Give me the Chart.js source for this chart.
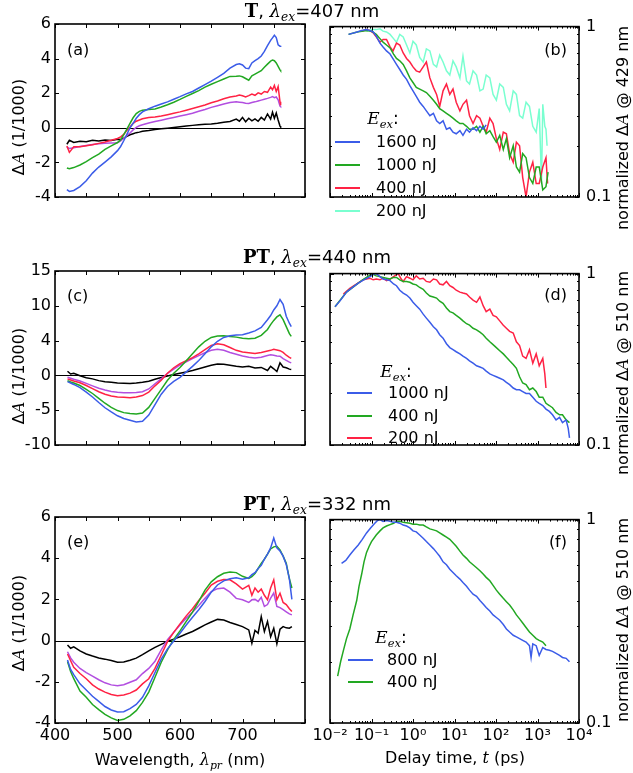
<!DOCTYPE html>
<html>
<head>
<meta charset="utf-8">
<script src="https://cdn.jsdelivr.net/npm/chart.js@4.4.1/dist/chart.umd.min.js"></script>
<style>
  html, body { margin:0; padding:0; background:#fff; }
  body { width:633px; height:773px; position:relative; overflow:hidden; font-family:"DejaVu Sans", sans-serif; color:#000; }
  canvas { position:absolute; }
  .txt { position:absolute; white-space:nowrap; font-size:16px; line-height:1; }
  .mid { transform:translate(-50%,-50%); }
  .rot { transform:translate(-50%,-50%) rotate(-90deg); }
  .mi { font-family:"DejaVu Serif", serif; font-style:italic; }
  .bm { font-family:"DejaVu Serif", serif; font-weight:bold; }
  sub { font-family:"DejaVu Serif", serif; font-style:italic; font-size:68%; vertical-align:-0.35em; line-height:0; }
  .leg { position:absolute; height:2px; width:25px; }
</style>
</head>
<body>
<canvas id="pa" width="315" height="233" style="left:0;top:10px"></canvas>
<canvas id="pb" width="324" height="233" style="left:300px;top:10px"></canvas>
<canvas id="pc" width="315" height="234" style="left:0;top:257px"></canvas>
<canvas id="pd" width="324" height="234" style="left:300px;top:257px"></canvas>
<canvas id="pe" width="315" height="252" style="left:0;top:503px"></canvas>
<canvas id="pf" width="324" height="252" style="left:300px;top:503px"></canvas>

<div class="txt mid" style="left:312px;top:11px;font-size:18px"><span class="bm">T</span>, <span class="mi">λ</span><sub>ex</sub>=407 nm</div>
<div class="txt mid" style="left:317px;top:257px;font-size:18px"><span class="bm">PT</span>, <span class="mi">λ</span><sub>ex</sub>=440 nm</div>
<div class="txt mid" style="left:317px;top:504px;font-size:18px"><span class="bm">PT</span>, <span class="mi">λ</span><sub>ex</sub>=332 nm</div>

<div class="txt rot" style="left:19px;top:127px">Δ<span class="mi">A</span> (1/1000)</div>
<div class="txt rot" style="left:19px;top:376px">Δ<span class="mi">A</span> (1/1000)</div>
<div class="txt rot" style="left:19px;top:623px">Δ<span class="mi">A</span> (1/1000)</div>
<div class="txt rot" style="left:623px;top:128px">normalized Δ<span class="mi">A</span> @ 429 nm</div>
<div class="txt rot" style="left:623px;top:373px">normalized Δ<span class="mi">A</span> @ 510 nm</div>
<div class="txt rot" style="left:623px;top:620px">normalized Δ<span class="mi">A</span> @ 510 nm</div>

<div class="txt mid" style="left:180px;top:760px">Wavelength, <span class="mi">λ</span><sub>pr</sub> (nm)</div>
<div class="txt mid" style="left:455px;top:758px">Delay time, <span class="mi">t</span> (ps)</div>

<div class="txt" style="left:67px;top:42px">(a)</div>
<div class="txt" style="right:66px;top:42px">(b)</div>
<div class="txt" style="left:67px;top:288px">(c)</div>
<div class="txt" style="right:66px;top:287px">(d)</div>
<div class="txt" style="left:67px;top:534px">(e)</div>
<div class="txt" style="right:66px;top:534px">(f)</div>

<script>
// colours
const cBlueC = '#3b5ce8', cGreenC = '#22a822', cRedC = '#ff2244', cPurpleC = '#b24ee0', cBlackC = '#000000', cCyanC = '#7affd0';

// (a) T, 407 nm : wavelength (nm) and ΔA (1/1000)
const wlA = [419,423,430,440,450,460,470,480,490,500,505,510,515,520,525,530,535,540,550,560,570,580,590,600,610,620,630,640,650,660,670,680,690,695,700,705,710,715,720,725,730,735,740,745,748,751,754,757,760,761];
const aBlue = [-3.58,-3.68,-3.62,-3.4,-3.06,-2.62,-2.27,-1.98,-1.68,-1.32,-1.08,-0.75,-0.38,0.0,0.26,0.55,0.76,0.92,1.1,1.25,1.38,1.5,1.65,1.8,1.96,2.1,2.3,2.5,2.7,2.92,3.15,3.45,3.66,3.7,3.63,3.45,3.42,3.75,3.88,4.0,4.15,4.42,4.75,5.05,5.2,5.35,5.22,4.8,4.72,4.75];
const aGreen = [-2.32,-2.37,-2.3,-2.15,-1.95,-1.73,-1.52,-1.25,-1.05,-0.85,-0.7,-0.4,-0.08,0.25,0.58,0.82,0.95,1.02,1.06,1.09,1.2,1.33,1.48,1.64,1.82,1.98,2.15,2.35,2.52,2.67,2.82,2.97,2.98,3.0,2.95,2.85,2.75,3.0,3.1,3.2,3.3,3.5,3.68,3.85,3.92,3.88,3.75,3.55,3.35,3.3];
const aRed = [-1.05,-1.42,-1.1,-1.1,-1.04,-0.98,-0.9,-0.82,-0.72,-0.62,-0.52,-0.38,-0.15,0.05,0.26,0.38,0.45,0.52,0.6,0.63,0.68,0.76,0.84,0.92,1.02,1.12,1.22,1.32,1.45,1.55,1.68,1.78,1.84,1.9,1.85,1.78,1.86,1.95,1.88,2.02,1.95,2.1,2.05,2.35,2.2,2.45,2.1,2.38,1.5,1.3];
const aPurple = [-1.1,-1.2,-1.15,-1.08,-1.02,-0.96,-0.92,-0.9,-0.88,-0.86,-0.75,-0.62,-0.45,-0.3,-0.12,0.02,0.12,0.18,0.28,0.36,0.44,0.52,0.6,0.68,0.76,0.84,0.96,1.06,1.18,1.28,1.38,1.46,1.5,1.48,1.46,1.42,1.4,1.46,1.5,1.55,1.6,1.65,1.7,1.76,1.8,1.74,1.78,1.62,1.25,1.22];
const aBlack = [-0.95,-0.72,-0.85,-0.78,-0.8,-0.72,-0.76,-0.7,-0.74,-0.66,-0.68,-0.6,-0.5,-0.4,-0.34,-0.28,-0.25,-0.2,-0.16,-0.1,-0.06,-0.02,0.02,0.06,0.1,0.14,0.18,0.2,0.22,0.26,0.32,0.36,0.5,0.38,0.6,0.35,0.55,0.4,0.52,0.38,0.6,0.45,0.8,0.5,0.9,0.55,0.85,0.45,0.1,0.05];

// (c) PT, 440 nm
const wlC = [420,425,430,440,450,460,470,480,490,500,510,520,530,540,550,560,570,580,590,600,610,620,630,640,650,660,670,680,690,700,710,720,730,740,745,750,755,760,765,770,775,778];
const cBlue = [-0.9,-1.1,-1.3,-1.75,-2.4,-3.1,-3.9,-4.65,-5.25,-5.8,-6.2,-6.45,-6.7,-6.6,-5.7,-4.2,-2.7,-1.6,-0.85,-0.28,0.5,1.3,2.15,3.1,4.1,4.9,5.45,5.7,5.8,5.85,6.1,6.4,6.9,8.0,8.6,9.4,10.0,10.9,10.2,8.5,7.5,7.0];
const cGreen = [-0.77,-0.95,-1.1,-1.45,-2.0,-2.6,-3.3,-4.0,-4.6,-5.05,-5.35,-5.48,-5.55,-5.4,-4.6,-3.3,-2.0,-0.7,0.32,1.13,2.1,3.1,4.1,4.9,5.45,5.65,5.7,5.6,5.5,5.35,5.25,5.35,5.75,6.6,7.3,7.9,8.4,8.7,8.0,7.0,6.0,5.6];
const cRed = [-0.5,-0.65,-0.8,-1.05,-1.45,-1.9,-2.35,-2.7,-2.95,-3.1,-3.15,-3.2,-3.1,-2.9,-2.4,-1.5,-0.7,0.3,1.1,1.7,2.1,2.55,3.1,3.7,4.3,4.55,4.4,4.0,3.6,3.35,3.25,3.15,3.3,3.5,3.6,3.75,3.65,3.55,3.3,2.9,2.6,2.45];
const cPurple = [-0.28,-0.4,-0.55,-0.8,-1.15,-1.5,-1.85,-2.1,-2.3,-2.43,-2.48,-2.5,-2.45,-2.35,-1.95,-1.2,-0.5,0.3,0.9,1.5,1.95,2.4,2.85,3.25,3.6,3.75,3.6,3.3,3.05,2.8,2.6,2.5,2.6,2.85,2.95,2.9,2.8,2.75,2.4,2.15,1.9,1.8];
const cBlack = [0.6,0.2,0.3,-0.05,-0.35,-0.5,-0.75,-0.9,-1.0,-1.08,-1.12,-1.17,-1.1,-1.0,-0.85,-0.55,-0.3,-0.1,0.12,0.3,0.5,0.7,0.95,1.2,1.45,1.65,1.6,1.45,1.3,1.2,1.3,1.05,1.15,0.7,1.3,0.95,0.55,1.8,1.2,1.1,0.9,0.85];

// (e) PT, 332 nm
const wlE = [420,425,430,440,450,460,470,480,490,500,510,520,530,540,550,560,570,580,590,600,610,620,630,640,650,660,670,680,690,700,710,715,720,725,730,735,740,745,750,755,760,765,770,775,779];
const eBlue = [-0.94,-1.4,-1.65,-2.1,-2.4,-2.7,-2.95,-3.2,-3.37,-3.47,-3.45,-3.3,-3.1,-2.75,-2.2,-1.55,-0.9,-0.4,-0.02,0.36,0.76,1.13,1.5,1.9,2.35,2.7,2.9,3.0,3.05,2.98,3.05,3.2,3.3,3.5,3.65,3.95,4.2,4.5,4.98,4.5,4.35,4.1,3.7,3.0,2.0];
const eGreen = [-1.02,-1.5,-1.85,-2.45,-2.75,-3.1,-3.35,-3.58,-3.75,-3.88,-3.82,-3.65,-3.4,-3.0,-2.5,-1.78,-1.05,-0.45,0.06,0.47,0.93,1.38,1.9,2.45,2.85,3.1,3.27,3.33,3.3,3.12,3.02,3.1,3.25,3.5,3.75,3.95,4.2,4.45,4.55,4.58,4.4,4.1,3.75,3.0,2.55];
const eRed = [-0.65,-0.98,-1.3,-1.6,-1.85,-2.15,-2.35,-2.5,-2.62,-2.68,-2.64,-2.55,-2.4,-2.1,-1.85,-1.35,-0.7,-0.05,0.4,0.81,1.2,1.55,1.95,2.3,2.7,2.88,2.97,2.95,2.75,2.5,2.68,2.2,2.55,2.35,2.5,2.2,1.98,2.55,2.95,1.98,2.3,1.85,1.75,1.55,1.41];
const ePurple = [-0.54,-0.84,-1.05,-1.35,-1.55,-1.72,-1.9,-2.05,-2.15,-2.19,-2.14,-2.02,-1.9,-1.6,-1.35,-1.0,-0.45,0.05,0.4,0.76,1.09,1.38,1.7,2.05,2.38,2.52,2.55,2.35,2.05,1.98,1.85,1.98,2.0,1.9,2.1,1.66,1.75,2.06,2.31,1.66,1.6,1.5,1.4,1.3,1.25];
const eBlack = [-0.21,-0.37,-0.3,-0.5,-0.65,-0.75,-0.84,-0.9,-0.97,-1.05,-1.04,-0.95,-0.85,-0.68,-0.5,-0.33,-0.18,-0.04,0.07,0.19,0.32,0.44,0.6,0.76,0.9,1.03,1.0,0.88,0.78,0.68,0.52,-0.13,0.5,0.36,1.17,0.44,0.93,0.19,0.6,-0.16,0.55,0.68,0.62,0.6,0.68];

// (b) normalized ΔA @ 429 nm vs delay time (ps)
const tB1600 = [0.028,0.045,0.058,0.075,0.09,0.11,0.13,0.16,0.19,0.23,0.28,0.34,0.40,0.48,0.58,0.70,0.84,1.0,1.2,1.45,1.76,2.1,2.55,3.1,3.7,4.4,5.3,6.4,7.7,9.2,11,13.5,16,19.5,23,28,34,41,49,58];
const vB1600 = [0.90,0.93,0.95,0.96,0.95,0.93,0.88,0.80,0.76,0.72,0.69,0.64,0.60,0.56,0.52,0.49,0.45,0.42,0.39,0.36,0.34,0.32,0.30,0.31,0.28,0.27,0.28,0.25,0.255,0.24,0.235,0.245,0.23,0.25,0.24,0.255,0.245,0.26,0.25,0.265];
const tB1000 = [0.028,0.045,0.076,0.1,0.13,0.16,0.19,0.23,0.28,0.34,0.40,0.48,0.58,0.70,0.84,1.0,1.2,1.45,1.76,2.1,2.55,3.1,3.7,4.4,5.3,6.4,7.7,9.2,11,13.5,16,19.5,23,28,34,41,49,58,71,85,102,123,150,178,213,260,310,370,440,530,640,770,930,1100,1340,1600,1800];
const vB1000 = [0.90,0.93,0.95,0.94,0.90,0.85,0.81,0.78,0.75,0.69,0.65,0.63,0.60,0.55,0.50,0.47,0.44,0.43,0.42,0.41,0.39,0.37,0.35,0.33,0.32,0.31,0.30,0.29,0.28,0.27,0.27,0.26,0.25,0.25,0.26,0.24,0.26,0.235,0.245,0.226,0.21,0.23,0.19,0.22,0.17,0.20,0.15,0.14,0.18,0.17,0.13,0.12,0.15,0.15,0.11,0.115,0.14];
const tB400 = [0.058,0.075,0.09,0.11,0.13,0.16,0.19,0.23,0.28,0.33,0.40,0.48,0.58,0.70,0.84,1.0,1.2,1.45,1.76,2.1,2.55,3.1,3.7,4.4,5.3,6.4,7.7,9.2,11,13.5,16,19.5,23,28,34,41,49,58,71,85,102,123,150,178,213,260,310,370,440,530,640,770,930,1100,1340,1600,1750];
const vB400 = [0.94,0.96,0.95,0.92,0.87,0.81,0.84,0.84,0.76,0.72,0.80,0.78,0.70,0.65,0.62,0.58,0.55,0.54,0.58,0.62,0.50,0.44,0.40,0.34,0.42,0.46,0.40,0.43,0.36,0.32,0.35,0.37,0.30,0.27,0.30,0.29,0.26,0.24,0.29,0.27,0.22,0.19,0.24,0.235,0.18,0.16,0.21,0.20,0.13,0.10,0.14,0.16,0.12,0.12,0.15,0.17,0.12];
const tB200 = [0.076,0.1,0.13,0.16,0.19,0.23,0.28,0.34,0.40,0.48,0.58,0.70,0.84,1.0,1.2,1.45,1.76,2.1,2.55,3.1,3.7,4.4,5.3,6.4,7.7,9.2,11,13.5,16,19.5,23,28,34,41,49,58,71,85,102,123,150,178,213,260,310,370,440,530,640,770,930,1100,1250,1340,1500,1600,1700];
const vB200 = [0.94,0.96,0.96,0.97,0.94,0.93,0.90,0.85,0.81,0.90,0.87,0.78,0.70,0.82,0.78,0.66,0.62,0.74,0.72,0.60,0.58,0.68,0.62,0.55,0.52,0.63,0.58,0.50,0.67,0.48,0.46,0.55,0.52,0.42,0.43,0.52,0.50,0.40,0.37,0.46,0.44,0.35,0.32,0.42,0.40,0.30,0.29,0.36,0.34,0.26,0.24,0.33,0.12,0.35,0.26,0.25,0.20];

// (d) normalized ΔA @ 510 nm, λex 440 nm
const tD1000 = [0.0132,0.018,0.025,0.035,0.048,0.065,0.092,0.11,0.13,0.16,0.19,0.23,0.28,0.34,0.40,0.48,0.58,0.70,0.84,1.0,1.2,1.45,1.76,2.1,2.55,3.1,3.7,4.4,5.3,6.4,7.7,9.2,11,13.5,16,19.5,23,28,34,41,49,58,71,85,102,123,150,178,213,260,310,370,440,530,640,770,930,1100,1340,1600,1930,2300,2800,3400,4000,4900,5500,5900];
const vD1000 = [0.64,0.70,0.78,0.83,0.88,0.92,0.96,0.99,1.0,0.96,0.93,0.92,0.91,0.87,0.85,0.80,0.77,0.75,0.72,0.68,0.65,0.62,0.58,0.55,0.52,0.49,0.47,0.44,0.42,0.39,0.37,0.36,0.35,0.34,0.33,0.32,0.31,0.30,0.29,0.285,0.28,0.27,0.26,0.255,0.25,0.245,0.24,0.232,0.225,0.215,0.21,0.21,0.205,0.20,0.20,0.19,0.18,0.175,0.17,0.162,0.157,0.15,0.14,0.145,0.135,0.14,0.125,0.11];
const tD400 = [0.0132,0.025,0.048,0.065,0.092,0.11,0.13,0.16,0.19,0.23,0.28,0.34,0.40,0.48,0.58,0.70,0.84,1.0,1.2,1.45,1.76,2.1,2.55,3.1,3.7,4.4,5.3,6.4,7.7,9.2,11,13.5,16,19.5,23,28,34,41,49,58,71,85,102,123,150,178,213,260,310,370,440,530,640,770,930,1100,1340,1600,1930,2300,2800,3400,4000,4900,5900];
const vD400 = [0.64,0.78,0.88,0.93,0.98,0.99,0.97,0.96,0.95,0.94,0.93,0.95,0.95,0.92,0.90,0.90,0.89,0.87,0.86,0.83,0.81,0.77,0.74,0.73,0.72,0.69,0.67,0.63,0.60,0.59,0.57,0.55,0.53,0.51,0.50,0.48,0.47,0.455,0.44,0.42,0.40,0.385,0.37,0.355,0.34,0.325,0.31,0.295,0.28,0.25,0.23,0.225,0.21,0.215,0.205,0.19,0.19,0.175,0.17,0.165,0.155,0.15,0.15,0.14,0.135];
const tD200 = [0.021,0.03,0.044,0.063,0.092,0.11,0.13,0.16,0.19,0.23,0.28,0.34,0.44,0.52,0.58,0.70,0.84,1.0,1.2,1.45,1.76,2.1,2.55,3.1,3.7,4.4,5.3,6.4,7.7,9.2,11,13.5,16,19.5,23,28,34,41,49,58,71,85,102,123,150,178,213,260,310,370,440,530,640,770,930,1100,1340,1500,1600];
const vD200 = [0.76,0.82,0.87,0.92,0.94,0.92,0.93,0.92,0.94,0.91,0.93,0.96,1.0,0.93,0.90,0.96,0.94,0.92,0.97,0.93,0.94,0.90,0.89,0.93,0.92,0.87,0.86,0.90,0.85,0.83,0.80,0.78,0.77,0.76,0.73,0.70,0.68,0.73,0.65,0.60,0.62,0.57,0.56,0.53,0.50,0.48,0.46,0.45,0.40,0.38,0.33,0.32,0.36,0.30,0.34,0.29,0.32,0.26,0.215];

// (f) normalized ΔA @ 510 nm, λex 332 nm
const tF800 = [0.019,0.024,0.030,0.038,0.048,0.06,0.076,0.095,0.12,0.14,0.16,0.19,0.23,0.28,0.34,0.40,0.48,0.58,0.70,0.84,1.0,1.2,1.45,1.76,2.1,2.55,3.1,3.7,4.4,5.3,6.4,7.7,9.2,11,13.5,16,19.5,23,28,34,41,49,58,71,85,102,123,150,178,213,260,310,370,440,530,640,700,770,930,1100,1340,1600,1930,2300,2800,3400,4000,4900,5900];
const vF800 = [0.61,0.63,0.67,0.71,0.75,0.80,0.86,0.91,0.96,0.99,1.0,0.98,0.99,0.98,0.97,0.97,0.96,0.94,0.93,0.91,0.88,0.87,0.84,0.81,0.78,0.75,0.72,0.69,0.66,0.62,0.60,0.57,0.55,0.53,0.51,0.49,0.47,0.45,0.43,0.42,0.40,0.385,0.37,0.355,0.34,0.33,0.32,0.305,0.29,0.28,0.27,0.265,0.26,0.255,0.25,0.24,0.21,0.245,0.24,0.215,0.235,0.23,0.228,0.225,0.22,0.215,0.21,0.208,0.20];
const tF400 = [0.0153,0.018,0.021,0.025,0.030,0.036,0.044,0.05,0.058,0.066,0.076,0.088,0.1,0.13,0.16,0.19,0.23,0.28,0.34,0.40,0.48,0.58,0.70,0.84,1.0,1.2,1.45,1.76,2.1,2.55,3.1,3.7,4.4,5.3,6.4,7.7,9.2,11,13.5,16,19.5,23,28,34,41,49,58,71,85,102,123,150,178,213,260,310,370,440,530,640,770,930,1100,1340,1600];
const vF400 = [0.17,0.2,0.227,0.26,0.29,0.34,0.40,0.47,0.54,0.62,0.69,0.74,0.78,0.84,0.88,0.91,0.93,0.945,0.96,0.98,0.98,0.97,0.965,0.96,0.95,0.95,0.94,0.94,0.92,0.90,0.89,0.88,0.86,0.84,0.82,0.80,0.77,0.74,0.70,0.67,0.645,0.62,0.60,0.58,0.56,0.54,0.52,0.50,0.475,0.45,0.43,0.41,0.395,0.38,0.36,0.34,0.325,0.31,0.295,0.28,0.27,0.26,0.255,0.25,0.24];

// tick values and labels
const nmTicks = [400,500,600,700];
const nmLabels = ['400','500','600','700'];
const yTicksA = [-4,-2,0,2,4,6];
const yLabelsA = ['-4','-2','0','2','4','6'];
const yTicksC = [-10,-5,0,5,10,15];
const yLabelsC = ['-10','-5','0','4','10','15'];
const tTicks = [0.01,0.1,1,10,100,1000,10000];
const tLabels = ['10⁻²','10⁻¹','10⁰','10¹','10²','10³','10⁴'];
const normTicks = [0.1,1];
const normLabels = ['0.1','1'];

// legends
const legB = ['1600 nJ','1000 nJ','400 nJ','200 nJ'];
const legD = ['1000 nJ','400 nJ','200 nJ'];
const legF = ['800 nJ','400 nJ'];

Chart.defaults.font.family = "'DejaVu Sans', sans-serif";
Chart.defaults.font.size = 16;
Chart.defaults.color = '#000';

function pts(xs, ys) { return xs.map((x, i) => ({ x: x, y: ys[i] })); }
function line(xs, ys, color) {
  return { data: pts(xs, ys), borderColor: color, borderWidth: 1.5, pointRadius: 0, fill: false, tension: 0 };
}

function linMarks(lo, hi, step) {
  const m = [];
  for (let v = lo; v <= hi + 1e-9; v += step) m.push([v, 4]);
  return m;
}
function logMarks(e0, e1) {
  const m = [];
  for (let e = e0; e < e1; e++)
    for (let k = 1; k < 10; k++) m.push([k * Math.pow(10, e), k === 1 ? 4 : 2]);
  m.push([Math.pow(10, e1), 4]);
  return m;
}

// frame with inward ticks on all sides, plus optional zero line
function framePlugin(xm, ym, zero) {
  return {
    id: 'frame',
    beforeDatasetsDraw(chart) {
      if (!zero) return;
      const a = chart.chartArea, ctx = chart.ctx;
      const y0 = Math.round(chart.scales.y.getPixelForValue(0)) + 0.5;
      ctx.save();
      ctx.strokeStyle = '#000'; ctx.lineWidth = 1;
      ctx.beginPath(); ctx.moveTo(a.left, y0); ctx.lineTo(a.right, y0); ctx.stroke();
      ctx.restore();
    },
    afterDatasetsDraw(chart) {
      const a = chart.chartArea, ctx = chart.ctx;
      const sx = chart.scales.x, sy = chart.scales.y;
      ctx.save();
      ctx.strokeStyle = '#000'; ctx.lineWidth = 1;
      ctx.beginPath();
      xm.forEach(([v, len]) => {
        const p = Math.round(sx.getPixelForValue(v)) + 0.5;
        ctx.moveTo(p, a.bottom); ctx.lineTo(p, a.bottom - len);
        ctx.moveTo(p, a.top); ctx.lineTo(p, a.top + len);
      });
      ym.forEach(([v, len]) => {
        const p = Math.round(sy.getPixelForValue(v)) + 0.5;
        ctx.moveTo(a.left, p); ctx.lineTo(a.left + len, p);
        ctx.moveTo(a.right, p); ctx.lineTo(a.right - len, p);
      });
      ctx.stroke();
      ctx.lineWidth = 1.6;
      ctx.strokeRect(a.left, a.top, a.right - a.left, a.bottom - a.top);
      ctx.restore();
    }
  };
}

function axis(type, pos, min, max, vals, labels, show, size, pad) {
  return {
    type: type, position: pos, min: min, max: max, display: show,
    afterFit: s => { if (pos === 'bottom') s.height = size; else s.width = size; },
    afterBuildTicks: s => { s.ticks = vals.map(v => ({ value: v })); },
    ticks: { callback: (v, i) => labels[i], padding: pad, autoSkip: false, maxRotation: 0, minRotation: 0 },
    grid: { display: false, drawTicks: false },
    border: { display: false }
  };
}

function spectrum(id, sets, yMin, yMax, yVals, yLabels, yStep, bottom) {
  new Chart(document.getElementById(id), {
    type: 'line',
    data: { datasets: sets },
    options: {
      responsive: false, animation: false, devicePixelRatio: 1,
      layout: { padding: { top: 14, right: 10, bottom: bottom ? 0 : 14, left: 0 } },
      plugins: { legend: { display: false }, tooltip: { enabled: false } },
      scales: {
        x: axis('linear', 'bottom', 400, 800, nmTicks, nmLabels, bottom, 32, 3),
        y: axis('linear', 'left', yMin, yMax, yVals, yLabels, true, 55, 4)
      }
    },
    plugins: [framePlugin(linMarks(400, 800, 50), linMarks(yMin, yMax, yStep), true)]
  });
}

function kinetics(id, sets, bottom) {
  new Chart(document.getElementById(id), {
    type: 'line',
    data: { datasets: sets },
    options: {
      responsive: false, animation: false, devicePixelRatio: 1,
      layout: { padding: { top: 14, right: 0, bottom: bottom ? 0 : 14, left: 30 } },
      plugins: { legend: { display: false }, tooltip: { enabled: false } },
      scales: {
        x: axis('logarithmic', 'bottom', 0.01, 10000, tTicks, tLabels, bottom, 32, 3),
        y: axis('logarithmic', 'right', 0.1, 1, normTicks, normLabels, true, 45, 7)
      }
    },
    plugins: [framePlugin(logMarks(-2, 4), logMarks(-1, 0), false)]
  });
}

spectrum('pa', [line(wlA, aBlue, cBlueC), line(wlA, aGreen, cGreenC), line(wlA, aRed, cRedC), line(wlA, aPurple, cPurpleC), line(wlA, aBlack, cBlackC)], -4, 6, yTicksA, yLabelsA, 2, false);
spectrum('pc', [line(wlC, cBlue, cBlueC), line(wlC, cGreen, cGreenC), line(wlC, cRed, cRedC), line(wlC, cPurple, cPurpleC), line(wlC, cBlack, cBlackC)], -10, 15, yTicksC, yLabelsC, 5, false);
spectrum('pe', [line(wlE, eBlue, cBlueC), line(wlE, eGreen, cGreenC), line(wlE, eRed, cRedC), line(wlE, ePurple, cPurpleC), line(wlE, eBlack, cBlackC)], -4, 6, yTicksA, yLabelsA, 2, true);

kinetics('pb', [line(tB1600, vB1600, cBlueC), line(tB1000, vB1000, cGreenC), line(tB400, vB400, cRedC), line(tB200, vB200, cCyanC)], false);
kinetics('pd', [line(tD1000, vD1000, cBlueC), line(tD400, vD400, cGreenC), line(tD200, vD200, cRedC)], false);
kinetics('pf', [line(tF800, vF800, cBlueC), line(tF400, vF400, cGreenC)], true);

// in-panel legends (HTML)
function legend(titleX, titleY, lineX, textX, rowY, labels, colors) {
  const t = document.createElement('div');
  t.className = 'txt mid';
  t.style.left = titleX + 'px'; t.style.top = titleY + 'px'; t.style.fontSize = '17px';
  t.innerHTML = '<span class="mi">E</span><sub>ex</sub>:';
  document.body.appendChild(t);
  labels.forEach((lab, i) => {
    const l = document.createElement('div');
    l.className = 'leg';
    l.style.left = lineX + 'px'; l.style.top = (rowY[i] - 1) + 'px'; l.style.background = colors[i];
    document.body.appendChild(l);
    const s = document.createElement('div');
    s.className = 'txt';
    s.style.left = textX + 'px'; s.style.top = (rowY[i] - 8) + 'px';
    s.textContent = lab;
    document.body.appendChild(s);
  });
}
legend(383, 118, 335, 376, [142, 165, 188, 211], legB, [cBlueC, cGreenC, cRedC, cCyanC]);
legend(396, 371, 347, 388, [393, 416, 438], legD, [cBlueC, cGreenC, cRedC]);
legend(391, 637, 348, 387, [660, 682], legF, [cBlueC, cGreenC]);
</script>
</body>
</html>
